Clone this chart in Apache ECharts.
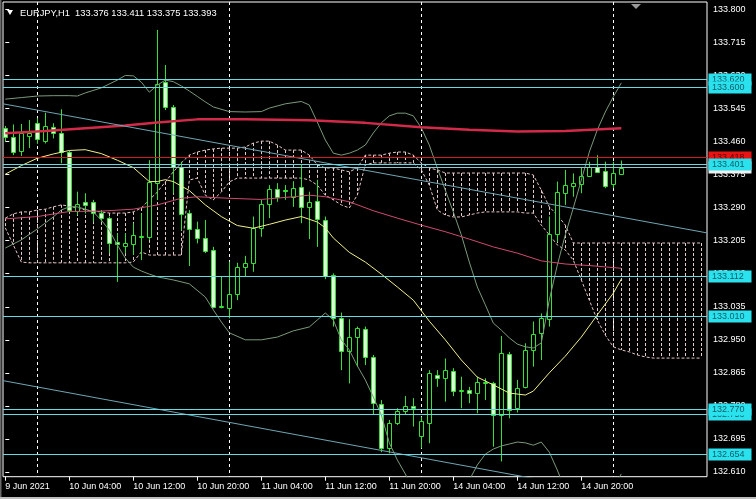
<!DOCTYPE html>
<html><head><meta charset="utf-8">
<script src="https://cdn.jsdelivr.net/npm/echarts@6/dist/echarts.min.js"></script>
<style>html,body{margin:0;padding:0;background:#000;}#c{width:756px;height:499px;}</style>
</head><body><div id="c"></div>
<script>
// ---- data ----
const xLabels = ['9 Jun 2021','10 Jun 04:00','10 Jun 12:00','10 Jun 20:00','11 Jun 04:00','11 Jun 12:00','11 Jun 20:00','14 Jun 04:00','14 Jun 12:00','14 Jun 20:00'];
const xLabelBars = [0,8,16,24,32,40,48,56,64,72];
const dayBars = [4,28,52,76];
const yTicks = [132.610,132.695,132.780,132.865,132.950,133.035,133.120,133.205,133.290,133.375,133.460,133.545,133.630,133.715,133.800];

const open  = [133.494,133.472,133.436,133.475,133.507,133.462,133.498,133.481,133.432,133.282,133.304,133.305,133.275,133.263,133.202,133.192,133.196,133.214,133.215,133.354,133.612,133.548,133.395,133.275,133.234,133.211,133.181,133.035,133.031,133.068,133.137,133.148,133.237,133.299,133.339,133.335,133.318,133.342,133.291,133.307,133.258,133.117,133.005,132.921,132.956,132.977,132.905,132.784,132.671,132.735,132.768,132.780,132.703,132.737,132.860,132.851,132.870,132.819,132.821,132.812,132.838,132.838,132.757,132.913,132.774,132.829,132.924,132.967,133.004,133.221,133.327,133.346,133.351,133.372,133.395,133.385,133.351,133.376];
const high  = [133.500,133.504,133.505,133.515,133.520,133.534,133.507,133.543,133.436,133.331,133.327,133.310,133.284,133.267,133.224,133.224,133.250,133.275,133.412,133.747,133.657,133.554,133.408,133.284,133.254,133.258,133.189,133.112,133.151,133.148,133.166,133.267,133.310,133.348,133.353,133.348,133.358,133.402,133.331,133.361,133.267,133.121,133.020,133.003,132.984,132.984,132.911,132.795,132.744,132.774,132.805,132.800,132.752,132.872,132.872,132.902,132.877,132.855,132.829,132.855,132.851,132.842,132.960,132.919,132.847,132.941,132.997,133.018,133.267,133.357,133.387,133.378,133.395,133.408,133.425,133.408,133.408,133.411];
const low   = [133.460,133.425,133.423,133.443,133.454,133.455,133.468,133.404,133.279,133.271,133.275,133.254,133.254,133.173,133.099,133.173,133.168,133.155,133.207,133.310,133.541,133.327,133.232,133.140,133.198,133.173,133.031,133.031,133.005,133.052,133.112,133.125,133.215,133.263,133.305,133.310,133.292,133.250,133.209,133.189,133.106,132.984,132.872,132.838,132.881,132.885,132.757,132.661,132.658,132.731,132.757,132.727,132.671,132.684,132.829,132.791,132.805,132.774,132.787,132.761,132.795,132.675,132.637,132.748,132.763,132.825,132.881,132.898,132.984,133.202,133.297,133.318,133.327,133.370,133.381,133.340,133.340,133.375];
const close = [133.472,133.434,133.481,133.481,133.466,133.500,133.481,133.434,133.284,133.299,133.297,133.275,133.263,133.200,133.196,133.200,133.220,133.217,133.355,133.608,133.550,133.395,133.273,133.234,133.211,133.178,133.034,133.036,133.068,133.137,133.147,133.237,133.299,133.337,133.318,133.333,133.341,133.291,133.304,133.260,133.114,133.007,132.921,132.956,132.980,132.905,132.787,132.671,132.735,132.768,132.780,132.774,132.741,132.864,132.851,132.872,132.819,132.820,132.814,132.842,132.842,132.757,132.915,132.769,132.827,132.924,132.965,133.005,133.221,133.329,133.348,133.353,133.372,133.395,133.382,133.346,133.380,133.393];

// moving averages / bands: [bar index, price]
const ma200 = [[0,133.481],[5,133.487],[10,133.494],[15,133.501],[19,133.509],[24,133.517],[30,133.517],[38,133.515],[45,133.508],[52,133.497],[58,133.490],[64,133.486],[70,133.487],[77,133.494]];
const ma100 = [[0,133.261],[4,133.267],[8,133.280],[12,133.281],[16,133.286],[19,133.297],[22,133.314],[24,133.318],[28,133.314],[32,133.311],[36,133.318],[38,133.322],[40,133.318],[43,133.305],[46,133.282],[49,133.263],[52,133.245],[55,133.228],[58,133.209],[61,133.189],[64,133.173],[67,133.153],[70,133.145],[73,133.141],[77,133.134]];
const bbMiddle = [[0,133.376],[2,133.398],[4,133.417],[6,133.428],[8,133.437],[10,133.439],[12,133.429],[14,133.412],[16,133.393],[18,133.357],[19,133.357],[20,133.362],[21,133.357],[23,133.334],[25,133.297],[27,133.267],[29,133.244],[31,133.237],[33,133.247],[35,133.258],[37,133.267],[39,133.253],[40,133.238],[41,133.212],[43,133.175],[45,133.150],[47,133.119],[49,133.086],[51,133.052],[53,132.998],[55,132.950],[57,132.898],[59,132.854],[61,132.834],[63,132.813],[65,132.808],[66,132.818],[68,132.865],[70,132.908],[72,132.957],[74,133.014],[76,133.070],[77,133.106]];
const bbUpper = [[0,133.569],[2,133.573],[4,133.577],[6,133.578],[8,133.578],[9,133.577],[10,133.585],[12,133.598],[14,133.618],[15,133.630],[16,133.629],[17,133.613],[18,133.587],[19,133.605],[20,133.618],[21,133.614],[22,133.603],[23,133.590],[24,133.576],[25,133.562],[26,133.549],[28,133.537],[30,133.536],[32,133.537],[33,133.546],[35,133.557],[37,133.563],[38,133.554],[39,133.510],[40,133.464],[41,133.430],[42,133.425],[43,133.430],[44,133.438],[45,133.451],[46,133.482],[47,133.508],[48,133.526],[49,133.533],[50,133.533],[51,133.526],[52,133.495],[53,133.451],[54,133.392],[55,133.335],[56,133.279],[57,133.220],[58,133.150],[59,133.086],[60,133.040],[61,132.993],[62,132.975],[63,132.955],[64,132.939],[65,132.932],[66,132.929],[67,132.942],[68,133.052],[69,133.142],[70,133.220],[71,133.289],[72,133.361],[73,133.433],[74,133.490],[75,133.536],[76,133.575],[77,133.611]];
const bbLower = [[0,133.186],[2,133.207],[4,133.235],[6,133.266],[7,133.284],[8,133.292],[9,133.292],[10,133.286],[11,133.279],[12,133.258],[13,133.232],[14,133.194],[15,133.160],[16,133.137],[17,133.127],[18,133.119],[19,133.112],[21,133.104],[23,133.094],[25,133.060],[26,133.027],[27,132.996],[28,132.968],[30,132.950],[32,132.950],[34,132.957],[36,132.973],[38,132.983],[39,133.001],[40,133.019],[41,133.001],[42,132.950],[43,132.924],[44,132.883],[45,132.847],[46,132.803],[47,132.757],[48,132.685],[49,132.641],[50,132.605],[51,132.564],[52,132.525],[53,132.499],[54,132.487],[55,132.499],[56,132.525],[57,132.559],[58,132.589],[59,132.628],[60,132.656],[61,132.669],[62,132.677],[63,132.682],[64,132.687],[65,132.685],[66,132.679],[67,132.687],[68,132.661],[69,132.615],[70,132.564],[71,132.525],[72,132.507],[73,132.512],[74,132.525],[75,132.546],[76,132.571],[77,132.605]];

// Ichimoku cloud spans, one value per bar (0..87)
const spanA = [133.263,133.274,133.279,133.279,133.284,133.286,133.292,133.297,133.294,133.289,
133.284,133.281,133.279,133.276,133.276,133.276,133.279,133.289,133.310,133.330,
133.356,133.382,133.405,133.425,133.433,133.438,133.441,133.443,133.443,133.443,
133.446,133.456,133.461,133.461,133.451,133.438,133.438,133.438,133.425,133.400,
133.392,133.392,133.387,133.382,133.392,133.425,133.425,133.425,133.430,133.433,
133.433,133.425,133.405,133.392,133.387,133.379,133.379,133.379,133.379,133.379,
133.379,133.379,133.379,133.379,133.379,133.379,133.374,133.335,133.292,133.271,
133.245,133.199,133.199,133.199,133.199,133.199,133.199,133.199,133.199,133.199,
133.199,133.199,133.199,133.199,133.199,133.199,133.199,133.199];
const spanB = [133.238,133.194,133.150,133.148,133.148,133.148,133.148,133.148,133.148,133.148,
133.148,133.148,133.148,133.148,133.148,133.148,133.150,133.176,133.168,133.168,
133.168,133.168,133.168,133.361,133.366,133.322,133.310,133.330,133.356,133.366,
133.366,133.366,133.366,133.366,133.366,133.366,133.366,133.366,133.361,133.348,
133.322,133.310,133.297,133.289,133.322,133.400,133.405,133.405,133.405,133.405,
133.405,133.405,133.387,133.348,133.284,133.271,133.266,133.266,133.271,133.276,
133.279,133.279,133.279,133.279,133.279,133.276,133.276,133.245,133.220,133.194,
133.181,133.155,133.104,133.052,133.001,132.962,132.932,132.924,132.919,132.911,
132.906,132.903,132.903,132.903,132.903,132.903,132.903,132.903];

// horizontal price levels (drawn in this order)
const levelPrices = [133.620,133.600,133.418,133.393,133.401,133.112,133.010,132.758,132.770,132.654];
const levelKinds  = ['cyan','cyan','red','bid','cyan','cyan','cyan','cyan','cyan','cyan'];
// trend lines [bar, price]
const upperTrend = [[-0.2875,133.557],[87.7125,133.225]];
const lowerTrend = [[-0.2875,132.845],[87.7125,132.511]];

const title = 'EURJPY,H1  133.376 133.411 133.375 133.393';

// ---- chart ----
const X_MIN = -0.2875, X_MAX = 87.7125, Y_MIN = 132.5979, Y_MAX = 133.8189;
const FONT = 'Liberation Sans';
const GREEN = '#34e234', BEAR = '#dcfbd6';
const CYAN = '#66dae2';
const kindStyle = {
  cyan: {line: CYAN, bg: '#2ae2ee', text: '#0f5c66'},
  red:  {line: '#d01c1c', bg: '#e81414', text: '#5a0000'},
  bid:  {line: '#8fc9cf', bg: '#f0f0f0', text: '#000000'}
};

const chart = echarts.init(document.getElementById('c'), null, {renderer: 'canvas'});

function candleItem(params, api) {
  const k = api.value(0), o = api.value(1), h = api.value(2), l = api.value(3), c = api.value(4);
  const pO = api.coord([k, o]), pC = api.coord([k, c]), pH = api.coord([k, h]), pL = api.coord([k, l]);
  const cx = Math.floor(pO[0]) + 0.5;
  let top = Math.round(Math.min(pO[1], pC[1])) + 0.5;
  let bot = Math.round(Math.max(pO[1], pC[1])) + 0.5;
  const ch = [{type: 'line', shape: {x1: cx, y1: pH[1], x2: cx, y2: pL[1]}, style: {stroke: GREEN, lineWidth: 1}}];
  if (bot - top < 1) {
    ch.push({type: 'line', shape: {x1: cx - 2.5, y1: top, x2: cx + 2.5, y2: top}, style: {stroke: GREEN, lineWidth: 1}});
  } else {
    ch.push({type: 'rect', shape: {x: cx - 2, y: top, width: 4, height: bot - top},
      style: {fill: c >= o ? '#000' : BEAR, stroke: GREEN, lineWidth: 1}});
  }
  return {type: 'group', children: ch};
}

function hatchItem(params, api) {
  const k = api.value(0);
  const p1 = api.coord([k, api.value(1)]), p2 = api.coord([k, api.value(2)]);
  const x = Math.floor(p1[0]) + 0.5;
  return {type: 'line', shape: {x1: x, y1: p1[1], x2: x, y2: p2[1]},
    style: {stroke: '#e6cccc', lineWidth: 1, lineDash: [3, 2]}};
}

function dayItem(params, api) {
  const cs = params.coordSys;
  const x = Math.floor(api.coord([api.value(0), Y_MIN])[0]) + 0.5;
  return {type: 'line', shape: {x1: x, y1: cs.y, x2: x, y2: cs.y + cs.height},
    style: {stroke: '#ffffff', lineWidth: 1, lineDash: [3, 3]}};
}

function levelItem(params, api) {
  const cs = params.coordSys;
  const price = api.value(1);
  const st = kindStyle[levelKinds[params.dataIndex]];
  const y = Math.floor(api.coord([0, price])[1]) + 0.5;
  return {type: 'group', children: [
    {type: 'line', shape: {x1: cs.x, y1: y, x2: cs.x + cs.width, y2: y}, style: {stroke: st.line, lineWidth: 1}},
    {type: 'rect', shape: {x: cs.x + cs.width + 1.5, y: y - 6, width: 43, height: 12}, style: {fill: st.bg}},
    {type: 'text', x: cs.x + cs.width + 5, y: y + 0.5, style: {text: price.toFixed(3), fill: st.text,
      fontSize: 9, fontFamily: FONT, verticalAlign: 'middle', align: 'left'}}
  ]};
}

const lineS = (data, color, width, z, extra) => Object.assign({
  type: 'line', data: data, showSymbol: false, symbol: 'none', z: z, silent: true,
  lineStyle: {color: color, width: width}, clip: true
}, extra || {});

const option = {
  backgroundColor: '#000',
  animation: false,
  grid: {left: 3, top: 2, width: 704, height: 474.7, show: true, borderColor: '#ffffff', borderWidth: 1,
    backgroundColor: 'transparent', containLabel: false, outerBoundsMode: 'none'},
  xAxis: {type: 'value', min: X_MIN, max: X_MAX, splitLine: {show: false}, axisLine: {show: false},
    axisTick: {show: true, length: 4, customValues: xLabelBars, lineStyle: {color: '#ffffff'}},
    axisLabel: {customValues: xLabelBars, formatter: v => xLabels[xLabelBars.indexOf(v)], align: 'left',
      color: '#ffffff', fontSize: 9, fontFamily: FONT, margin: 5}},
  yAxis: {type: 'value', position: 'right', min: Y_MIN, max: Y_MAX, splitLine: {show: false}, axisLine: {show: false},
    axisTick: {show: true, length: 4, customValues: yTicks, lineStyle: {color: '#ffffff'}},
    axisLabel: {customValues: yTicks, formatter: v => v.toFixed(3), color: '#ffffff', fontSize: 9, fontFamily: FONT, margin: 6}},
  graphic: [
    {type: 'rect', shape: {x: 0, y: 0, width: 1.5, height: 499}, style: {fill: '#6a6a6a'}, z: 100},
    {type: 'rect', shape: {x: 0, y: 497, width: 756, height: 2}, style: {fill: '#bdbdbd'}, z: 100},
    {type: 'polygon', shape: {points: [[7, 10], [13, 10], [10, 15]]}, style: {fill: '#ffffff'}, z: 100},
    {type: 'text', x: 20, y: 13, style: {text: title, fill: '#ffffff', fontSize: 9.3, fontFamily: FONT, verticalAlign: 'middle'}, z: 100},
    {type: 'polygon', shape: {points: [[631, 4], [641, 4], [636, 9]]}, style: {fill: '#9a9a9a'}, z: 100}
  ],
  series: [
    {type: 'custom', name: 'days', data: dayBars.map(k => [k]), encode: {x: 0}, renderItem: dayItem, z: 1, silent: true},
    {type: 'custom', name: 'cloud', data: spanA.map((a, i) => [i, a, spanB[i]]), encode: {x: 0, y: [1, 2]}, renderItem: hatchItem, z: 2, silent: true},
    lineS(spanA.map((v, i) => [i, v]), '#e6c4c4', 1, 2, {lineStyle: {color: '#e6c4c4', width: 1, type: [3, 2]}}),
    lineS(spanB.map((v, i) => [i, v]), '#e6c4c4', 1, 2, {lineStyle: {color: '#e6c4c4', width: 1, type: [3, 2]}}),
    {type: 'custom', name: 'candles', data: open.map((o, i) => [i, o, high[i], low[i], close[i]]),
      encode: {x: 0, y: [1, 2, 3, 4]}, renderItem: candleItem, z: 3, silent: true},
    lineS(bbUpper, '#7a9a7a', 1, 4),
    lineS(bbLower, '#7a9a7a', 1, 4),
    lineS(bbMiddle, '#f2f08a', 1, 4),
    lineS(ma100, '#cf4a72', 1, 4),
    lineS(ma200, '#d42a4a', 2.5, 4),
    lineS(upperTrend, '#6fa6b4', 1, 5),
    lineS(lowerTrend, '#6fa6b4', 1, 5),
    {type: 'custom', name: 'levels', data: levelPrices.map(p => [0, p]), encode: {x: 0, y: 1}, renderItem: levelItem, z: 6, silent: true}
  ]
};
chart.setOption(option);
</script></body></html>
